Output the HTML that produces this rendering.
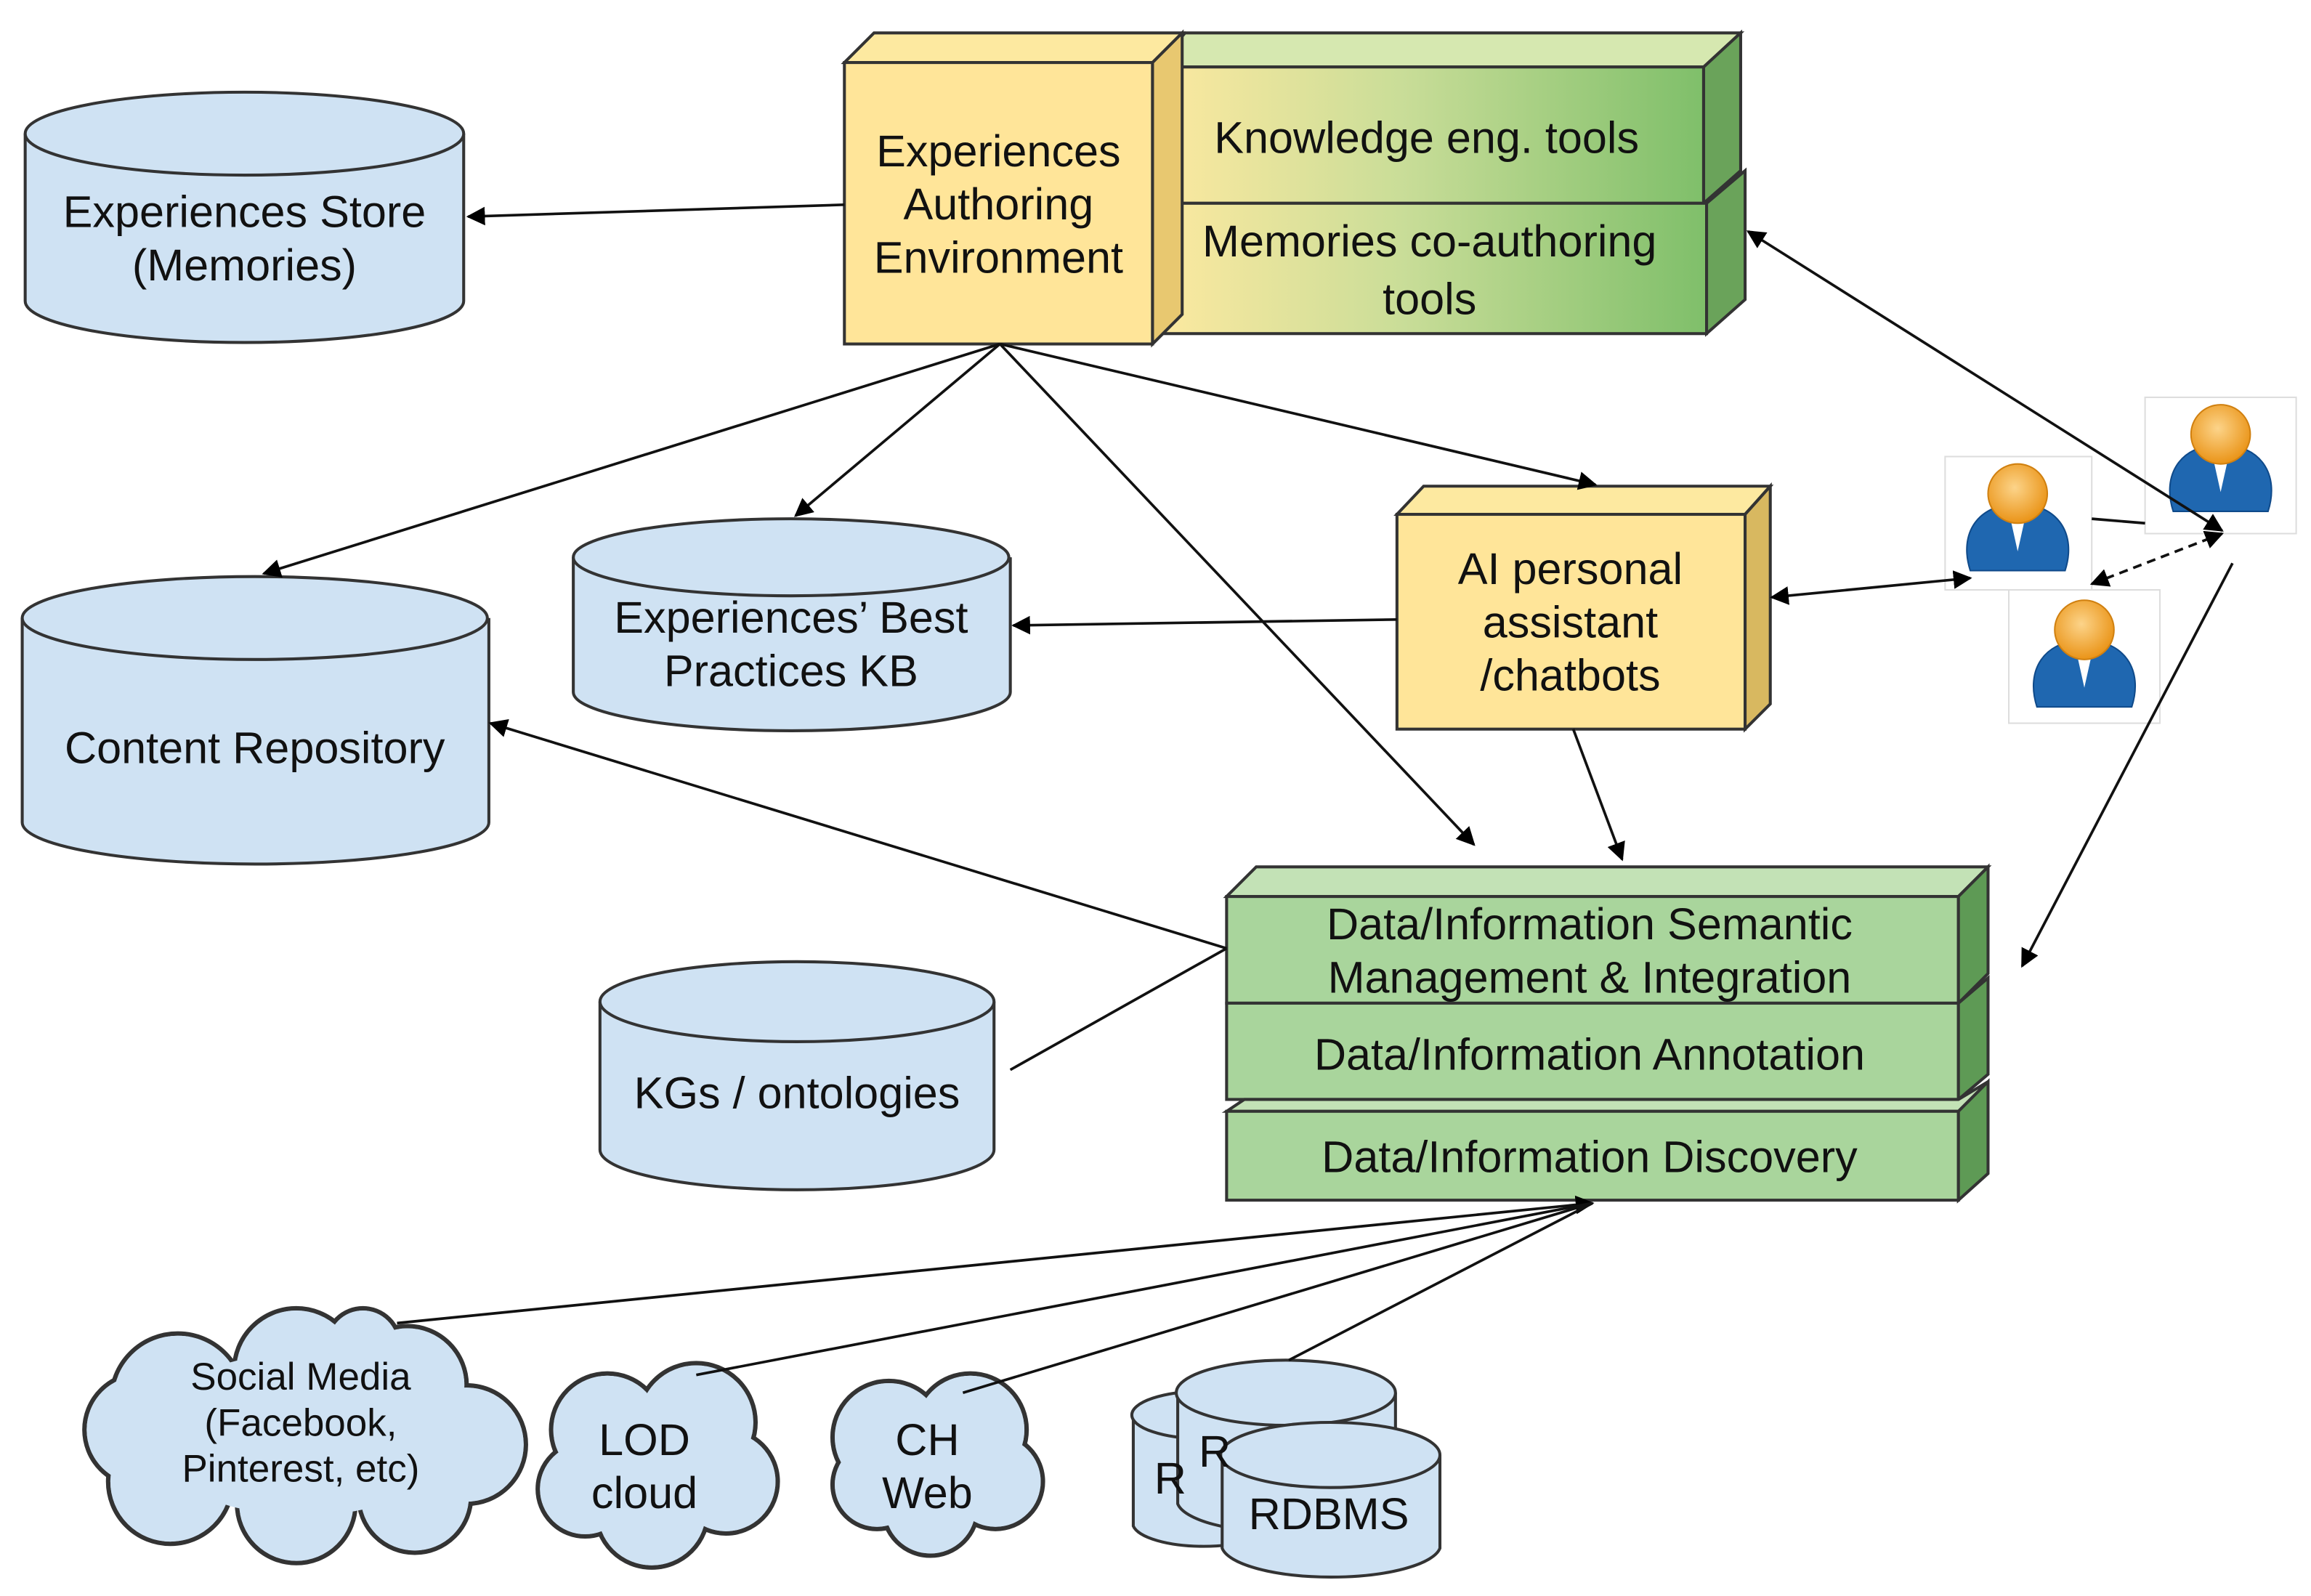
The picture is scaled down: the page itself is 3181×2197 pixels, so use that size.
<!DOCTYPE html>
<html><head><meta charset="utf-8"><style>
html,body{margin:0;padding:0;background:#fff}
svg{display:block}
text{font-family:"Liberation Sans",sans-serif;fill:#111;text-anchor:middle}
</style></head><body>
<svg width="3181" height="2197" viewBox="0 0 1560 1077" xmlns="http://www.w3.org/2000/svg">
<defs>
<marker id="ar" viewBox="0 0 10 10" refX="9" refY="5" markerWidth="7" markerHeight="7" orient="auto-start-reverse"><path d="M0,0 L10,5 L0,10 z" fill="#000"/></marker>
<linearGradient id="gy" x1="0" x2="1"><stop offset="0" stop-color="#fde9a0"/><stop offset="0.45" stop-color="#c9dd98"/><stop offset="1" stop-color="#7fbf6a"/></linearGradient>
<radialGradient id="hd" cx="0.45" cy="0.4" r="0.6"><stop offset="0" stop-color="#fcd48a"/><stop offset="1" stop-color="#ea9418"/></radialGradient>
</defs>
<g stroke="#333" stroke-width="2" fill="#cfe2f3">
<path d="M17,90 V203 A148,28 0 0 0 313,203 V90"/><ellipse cx="165" cy="90" rx="148" ry="28"/>
<path d="M15,417 V555 A157,28 0 0 0 330,555 V417"/><ellipse cx="172" cy="417" rx="157" ry="28"/>
<path d="M387,376 V467 A147,26 0 0 0 682,467 V376"/><ellipse cx="534" cy="376" rx="147" ry="26"/>
<path d="M405,676 V776 A133,27 0 0 0 671,776 V676"/><ellipse cx="538" cy="676" rx="133" ry="27"/>
<path d="M765,955 V1030 A48,16 0 0 0 860,1030 V955"/><ellipse cx="812" cy="955" rx="48" ry="16"/>
<path d="M795,940 V1015 A74,22 0 0 0 942,1015 V940"/><ellipse cx="868" cy="940" rx="74" ry="22"/>
<path d="M825,982 V1045 A74,22 0 0 0 972,1045 V982"/><ellipse cx="898" cy="982" rx="74" ry="22"/>
</g>
<!-- clouds -->
<g fill="#cfe2f3" stroke="#333" stroke-width="3">
<circle cx="120" cy="945" r="45"/><circle cx="200" cy="925" r="42"/><circle cx="275" cy="935" r="40"/><circle cx="315" cy="975" r="40"/><circle cx="280" cy="1010" r="38"/><circle cx="200" cy="1015" r="40"/><circle cx="115" cy="1000" r="42"/><circle cx="95" cy="965" r="38"/><circle cx="245" cy="908" r="25"/>
<circle cx="410" cy="965" r="38"/><circle cx="470" cy="960" r="40"/><circle cx="490" cy="1000" r="35"/><circle cx="440" cy="1020" r="38"/><circle cx="395" cy="1005" r="32"/>
<circle cx="600" cy="970" r="38"/><circle cx="655" cy="965" r="38"/><circle cx="672" cy="1000" r="32"/><circle cx="628" cy="1018" r="32"/><circle cx="592" cy="1002" r="30"/>
</g>
<g fill="#cfe2f3">
<circle cx="120" cy="945" r="43.5"/><circle cx="200" cy="925" r="40.5"/><circle cx="275" cy="935" r="38.5"/><circle cx="315" cy="975" r="38.5"/><circle cx="280" cy="1010" r="36.5"/><circle cx="200" cy="1015" r="38.5"/><circle cx="115" cy="1000" r="40.5"/><circle cx="95" cy="965" r="36.5"/><circle cx="245" cy="908" r="23.5"/>
<ellipse cx="205" cy="968" rx="105" ry="55"/>
<circle cx="410" cy="965" r="36.5"/><circle cx="470" cy="960" r="38.5"/><circle cx="490" cy="1000" r="33.5"/><circle cx="440" cy="1020" r="36.5"/><circle cx="395" cy="1005" r="30.5"/>
<ellipse cx="442" cy="992" rx="50" ry="40"/>
<circle cx="600" cy="970" r="36.5"/><circle cx="655" cy="965" r="36.5"/><circle cx="672" cy="1000" r="30.5"/><circle cx="628" cy="1018" r="30.5"/><circle cx="592" cy="1002" r="28.5"/>
<ellipse cx="630" cy="992" rx="45" ry="35"/>
</g>
<!-- 3D boxes -->
<g stroke="#333" stroke-width="2">
<path d="M780,45 L800,22 L1175,22 L1150,45 z" fill="#d6e8b0"/>
<rect x="780" y="45" width="370" height="92" fill="url(#gy)"/>
<path d="M1150,45 L1175,22 L1175,115 L1150,137 z" fill="#6aa35a"/>
<rect x="780" y="137" width="372" height="88" fill="url(#gy)"/>
<path d="M1152,137 L1178,115 L1178,202 L1152,225 z" fill="#6aa35a"/>
<path d="M570,42 L590,22 L798,22 L778,42 z" fill="#fde9a0"/>
<rect x="570" y="42" width="208" height="190" fill="#ffe599"/>
<path d="M778,42 L798,22 L798,212 L778,232 z" fill="#e8c870"/>
<path d="M943,347 L961,328 L1195,328 L1178,347 z" fill="#fde9a0"/>
<rect x="943" y="347" width="235" height="145" fill="#ffe599"/>
<path d="M1178,347 L1195,328 L1195,475 L1178,492 z" fill="#d8b860"/>
<path d="M828,605 L848,585 L1342,585 L1322,605 z" fill="#c3e2b6"/>
<rect x="828" y="605" width="494" height="72" fill="#a9d59c"/>
<path d="M1322,605 L1342,585 L1342,657 L1322,677 z" fill="#5e9a55"/>
<rect x="828" y="677" width="494" height="65" fill="#a9d59c"/>
<path d="M1322,677 L1342,660 L1342,725 L1322,742 z" fill="#5e9a55"/>
<path d="M828,750 L840,742 L1322,742 L1342,730 L1322,750 z" fill="#c3e2b6"/>
<rect x="828" y="750" width="494" height="60" fill="#a9d59c"/>
<path d="M1322,750 L1342,730 L1342,792 L1322,810 z" fill="#5e9a55"/>
</g>
<!-- people -->
<g>
<rect x="1313" y="308" width="99" height="90" fill="#fff" stroke="#ddd"/>
<rect x="1448" y="268" width="102" height="92" fill="#fff" stroke="#ddd"/>
<rect x="1356" y="398" width="102" height="90" fill="#fff" stroke="#ddd"/>
<g id="p"><path d="M1330,385 C1322,360 1335,340 1362,340 C1389,340 1402,360 1394,385 z" fill="#1f67b0" stroke="#0f4a8a"/><path d="M1356,345 L1362,372 L1368,345 z" fill="#fff"/><circle cx="1362" cy="333" r="20" fill="url(#hd)" stroke="#d08010"/></g>
<use href="#p" transform="translate(137,-40)"/>
<use href="#p" transform="translate(45,92)"/>
</g>
<!-- connectors -->
<g stroke="#111" stroke-width="1.8" fill="none">
<line x1="570" y1="138" x2="316" y2="146" marker-end="url(#ar)"/>
<line x1="675" y1="232" x2="178" y2="387" marker-end="url(#ar)"/>
<line x1="675" y1="232" x2="537" y2="348" marker-end="url(#ar)"/>
<line x1="675" y1="232" x2="995" y2="570" marker-end="url(#ar)"/>
<line x1="675" y1="232" x2="1077" y2="327" marker-end="url(#ar)"/>
<line x1="943" y1="418" x2="684" y2="422" marker-end="url(#ar)"/>
<line x1="1062" y1="492" x2="1095" y2="580" marker-end="url(#ar)"/>
<line x1="828" y1="640" x2="331" y2="488" marker-end="url(#ar)"/>
<line x1="682" y1="722" x2="828" y2="640"/>
<line x1="1196" y1="403" x2="1330" y2="390" marker-start="url(#ar)" marker-end="url(#ar)"/>
<line x1="1412" y1="350" x2="1448" y2="353"/>
<line x1="1180" y1="156" x2="1500" y2="358" marker-start="url(#ar)" marker-end="url(#ar)"/>
<line x1="1412" y1="394" x2="1500" y2="360" stroke-dasharray="6,4" marker-start="url(#ar)" marker-end="url(#ar)"/>
<line x1="1507" y1="380" x2="1365" y2="652" marker-end="url(#ar)"/>
<line x1="268" y1="893" x2="1075" y2="812" marker-end="url(#ar)"/>
<line x1="470" y1="928" x2="1075" y2="812"/>
<line x1="650" y1="940" x2="1075" y2="812"/>
<line x1="870" y1="918" x2="1075" y2="812"/>
</g>
<!-- labels -->
<g font-size="30">
<text x="165" y="153">Experiences Store</text><text x="165" y="189">(Memories)</text>
<text x="674" y="112">Experiences</text><text x="674" y="148">Authoring</text><text x="674" y="184">Environment</text>
<text x="963" y="103">Knowledge eng. tools</text>
<text x="965" y="173">Memories co-authoring</text><text x="965" y="212">tools</text>
<text x="172" y="515">Content Repository</text>
<text x="534" y="427">Experiences’ Best</text><text x="534" y="463">Practices KB</text>
<text x="1060" y="394">AI personal</text><text x="1060" y="430">assistant</text><text x="1060" y="466">/chatbots</text>
<text x="1073" y="634">Data/Information Semantic</text><text x="1073" y="670">Management &amp; Integration</text>
<text x="1073" y="722">Data/Information Annotation</text>
<text x="1073" y="791">Data/Information Discovery</text>
<text x="538" y="748">KGs / ontologies</text>
<text x="435" y="982">LOD</text><text x="435" y="1018">cloud</text>
<text x="626" y="982">CH</text><text x="626" y="1018">Web</text>
<text x="897" y="1032">RDBMS</text>
<text x="790" y="1008">R</text><text x="820" y="990">R</text>
</g>
<g font-size="26">
<text x="203" y="938">Social Media</text><text x="203" y="969">(Facebook,</text><text x="203" y="1000">Pinterest, etc)</text>
</g>
</svg>
</body></html>
